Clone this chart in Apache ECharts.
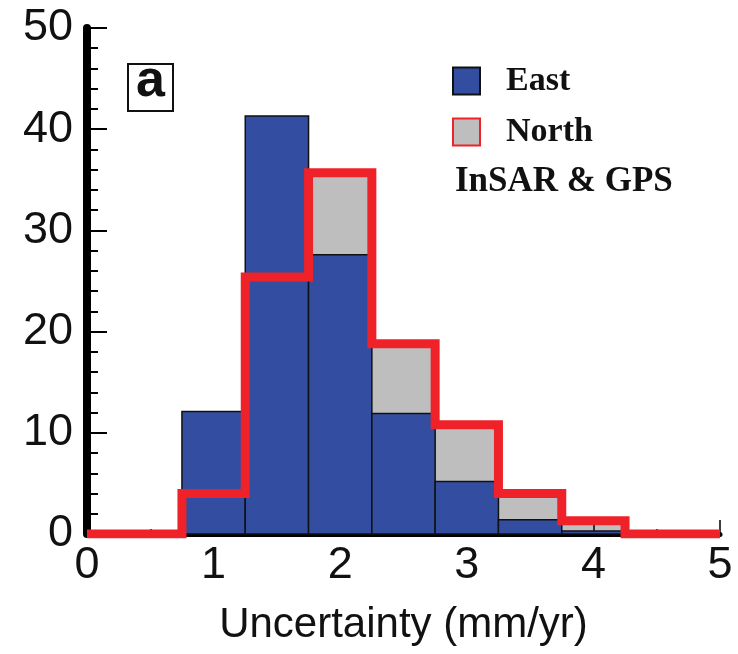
<!DOCTYPE html>
<html>
<head>
<meta charset="utf-8">
<script src="https://cdn.jsdelivr.net/npm/echarts@6/dist/echarts.min.js"></script>
<style>
  html, body { margin: 0; padding: 0; background: #fff; }
  #chart { width: 738px; height: 654px; }
</style>
</head>
<body>
<div id="chart"></div>
<script>
// histogram bins (mm/yr), counts
const binEdges = [0.75, 1.25, 1.75, 2.25, 2.75, 3.25, 3.75, 4.25]
const east = [12.1, 41.3, 27.6, 11.9, 5.2, 1.4, 0.3]
const north = [4.0, 25.4, 35.7, 18.8, 10.8, 4.0, 1.3]
const xTicks = [0, 1, 2, 3, 4, 5]
const yTicks = [0, 10, 20, 30, 40, 50]

const BLUE = '#334ea0'
const GRAY = '#bebebe'
const RED = '#ee2228'
const SANS = '"Liberation Sans", Arial, sans-serif'
const SERIF = '"Liberation Serif", "Times New Roman", serif'

const toRows = vals => vals.map((v, i) => [binEdges[i], binEdges[i + 1], v])

// step outline of the North histogram, closed to zero on both sides
const northStep = [[xTicks[0], 0]]
  .concat(north.map((v, i) => [binEdges[i], v]))
  .concat([[binEdges[binEdges.length - 1], 0], [xTicks[xTicks.length - 1], 0]])

const binRenderer = (fill, stroke, lineWidth) => (params, api) => {
  const a = api.coord([api.value(0), api.value(2)])
  const b = api.coord([api.value(1), 0])
  return {
    type: 'rect',
    shape: { x: a[0], y: a[1], width: b[0] - a[0], height: b[1] - a[1] },
    style: { fill, stroke, lineWidth },
  }
}

const chart = echarts.init(document.getElementById('chart'))

chart.setOption({
  animation: false,
  grid: { left: 87, right: 18, top: 28, bottom: 120, containLabel: false },
  legend: {
    orient: 'vertical',
    left: 452,
    top: 64,
    padding: 0,
    itemWidth: 27,
    itemHeight: 27,
    itemGap: 17,
    selectedMode: false,
    textStyle: {
      fontFamily: SERIF,
      fontWeight: 'bold',
      fontSize: 34,
      color: '#111',
      lineHeight: 27,
      padding: [0, 0, 0, 21],
    },
    data: [
      { name: 'East', icon: 'rect', itemStyle: { color: BLUE, borderColor: '#111', borderWidth: 2 } },
      { name: 'North', icon: 'rect', itemStyle: { color: GRAY, borderColor: RED, borderWidth: 2 } },
    ],
  },
  graphic: [
    {
      type: 'group',
      left: 127,
      top: 56,
      children: [
        { type: 'rect', shape: { x: 0, y: 0, width: 45, height: 47 }, style: { fill: '#fff', stroke: '#111', lineWidth: 2 } },
        {
          type: 'text',
          style: { text: 'a', x: 22.5, y: 18, align: 'center', verticalAlign: 'middle', font: 'bold 52px ' + SANS, fill: '#111' },
        },
      ],
    },
    {
      type: 'text',
      left: 455,
      top: 164,
      style: { text: 'InSAR & GPS', font: 'bold 35px ' + SERIF, fill: '#111' },
    },
  ],
  xAxis: {
    type: 'value',
    min: xTicks[0],
    max: xTicks[xTicks.length - 1],
    interval: 1,
    name: 'Uncertainty (mm/yr)',
    nameLocation: 'middle',
    nameGap: 70,
    nameTextStyle: { fontFamily: SANS, fontSize: 42, color: '#111' },
    axisLine: { lineStyle: { color: '#000', width: 5 } },
    axisTick: { inside: true, length: 14, lineStyle: { color: '#000', width: 1.5 } },
    minorTick: { show: true, splitNumber: 2, length: 5, lineStyle: { color: '#000', width: 1.5 } },
    axisLabel: { fontFamily: SANS, fontSize: 45, color: '#111', margin: 9 },
    splitLine: { show: false },
  },
  yAxis: {
    type: 'value',
    min: yTicks[0],
    max: yTicks[yTicks.length - 1],
    interval: 10,
    axisLine: { lineStyle: { color: '#000', width: 8 } },
    axisTick: { inside: true, length: 20, lineStyle: { color: '#000', width: 2 } },
    minorTick: { show: true, splitNumber: 5, length: 11, lineStyle: { color: '#000', width: 2 } },
    axisLabel: { fontFamily: SANS, fontSize: 45, color: '#111', margin: 14 },
    splitLine: { show: false },
  },
  series: [
    {
      name: 'North',
      type: 'custom',
      z: -1,
      itemStyle: { color: GRAY },
      encode: { x: [0, 1], y: 2 },
      renderItem: binRenderer(GRAY, null, 0),
      data: toRows(north),
    },
    {
      name: 'East',
      type: 'custom',
      z: 3,
      itemStyle: { color: BLUE },
      encode: { x: [0, 1], y: 2 },
      renderItem: binRenderer(BLUE, '#111', 1.5),
      data: toRows(east),
    },
    {
      name: 'North outline',
      type: 'line',
      z: 4,
      step: 'end',
      symbol: 'none',
      lineStyle: { color: RED, width: 9, join: 'miter', cap: 'butt' },
      data: northStep,
    },
  ],
})
</script>
</body>
</html>
